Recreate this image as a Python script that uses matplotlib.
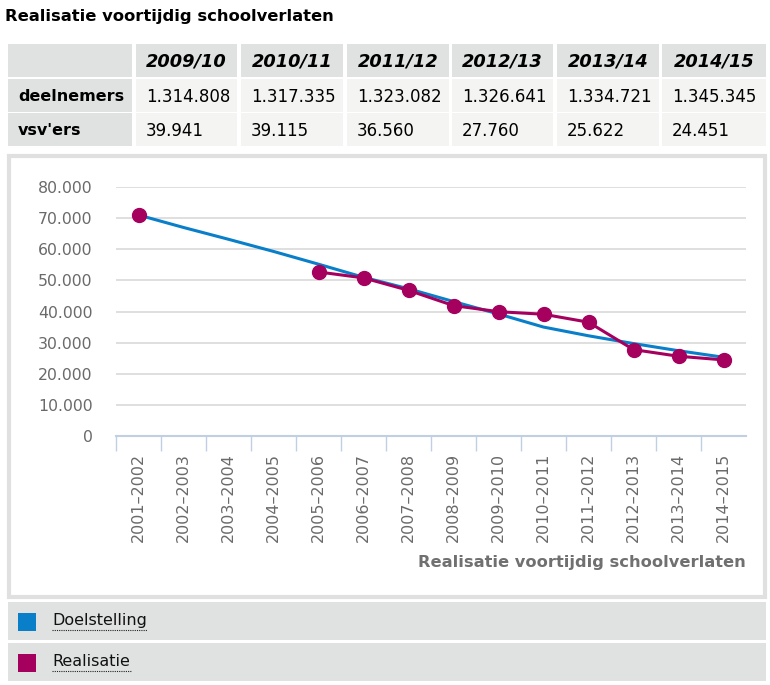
import numpy as np
import matplotlib
matplotlib.use("Agg")
import matplotlib.pyplot as plt
from matplotlib.patches import Rectangle

# data
years = ['2009/10', '2010/11', '2011/12', '2012/13', '2013/14', '2014/15']
deelnemers = ['1.314.808', '1.317.335', '1.323.082', '1.326.641', '1.334.721', '1.345.345']
vsvers = ['39.941', '39.115', '36.560', '27.760', '25.622', '24.451']

categories = ['2001–2002', '2002–2003', '2003–2004', '2004–2005', '2005–2006',
              '2006–2007', '2007–2008', '2008–2009', '2009–2010', '2010–2011',
              '2011–2012', '2012–2013', '2013–2014', '2014–2015']
doelstelling = [71000, 67000, 63200, 59300, 55200, 51000, 47300, 43200, 39200,
                35000, 32200, 29700, 27400, 25300]
realisatie = [71000, np.nan, np.nan, np.nan, 52700, 50800, 46800, 41900, 39941,
              39115, 36560, 27760, 25622, 24451]

BLUE = '#0a7fc9'
MAG = '#a6005f'
GRAY = '#e0e1e1'
LIGHT = '#f4f4f3'

W, H = 770, 685
fig = plt.figure(figsize=(W / 100, H / 100), dpi=100)
plt.rcParams['font.family'] = ['DejaVu Sans']

# overlay in pixel coords
bg = fig.add_axes([0, 0, 1, 1])
bg.set_xlim(0, W)
bg.set_ylim(H, 0)
bg.axis('off')

bg.text(5, 16, 'Realisatie voortijdig schoolverlaten', fontsize=11.8,
        fontweight='bold', va='center', ha='left')

# table
col_x = [8, 136, 241, 347, 452, 557, 662]
col_w = [124, 101, 102, 102, 101, 102, 104]
row_y = [44, 79, 113]
row_h = 33
for r in range(3):
    for c in range(7):
        fc = GRAY if (r == 0 or c == 0) else LIGHT
        bg.add_patch(Rectangle((col_x[c], row_y[r]), col_w[c], row_h, fc=fc, ec='none'))
for i, y in enumerate(years):
    bg.text(col_x[i + 1] + col_w[i + 1] / 2, row_y[0] + row_h / 2 + 1, y,
            fontsize=12.8, fontweight='bold', fontstyle='italic', ha='center', va='center')
for r, (lab, vals) in enumerate([('deelnemers', deelnemers), ("vsv'ers", vsvers)]):
    yy = row_y[r + 1] + row_h / 2 + 1
    bg.text(18, yy, lab, fontsize=11.5, fontweight='bold', ha='left', va='center')
    for i, v in enumerate(vals):
        bg.text(col_x[i + 1] + 10, yy, v, fontsize=12, ha='left', va='center')

# chart frame
bg.add_patch(Rectangle((9, 156), 756, 441, fc='white', ec='#e0e0e0', lw=3))

# legend rows
for k, (lab, col) in enumerate([('Doelstelling', BLUE), ('Realisatie', MAG)]):
    y0 = 602 + k * 41
    bg.add_patch(Rectangle((8, y0), 758, 38, fc=GRAY, ec='none'))
    bg.add_patch(Rectangle((18, y0 + 11), 18, 18, fc=col, ec='none'))
    bg.text(52, y0 + 19, lab, fontsize=11.5, ha='left', va='center', color='#111111')
    bg.plot([52, 52 + len(lab) * 7.9], [y0 + 27.5, y0 + 27.5], ls=(0, (1, 1)), lw=0.8, color='#222222')

# chart
ax = fig.add_axes([116 / W, (H - 436) / H, (746 - 116) / W, 249 / H])
x = np.arange(len(categories))
ax.plot(x, doelstelling, color=BLUE, lw=2.2, zorder=2)
ax.plot(x, realisatie, color=MAG, lw=2.2, marker='o', ms=10, zorder=3)
ax.set_xlim(-0.5, len(categories) - 0.5)
ax.set_ylim(0, 80000)
ax.set_yticks(np.arange(0, 80001, 10000))
ax.set_yticklabels(['0'] + ['%d.000' % (v // 1000) for v in range(10000, 80001, 10000)])
ax.yaxis.grid(True, color='#d9d9d9', lw=1.2)
ax.set_axisbelow(True)
for s in ['top', 'right', 'left']:
    ax.spines[s].set_visible(False)
ax.spines['bottom'].set_color('#c0d0e2')
ax.spines['bottom'].set_linewidth(1.5)
ax.tick_params(axis='y', length=0, pad=17, labelsize=11.3, labelcolor='#6a6a6a')
ax.set_xticks(np.arange(-0.5, len(categories) - 1, 1))
ax.tick_params(axis='x', which='major', length=11, color='#c0d0e2', width=1, labelbottom=False)
ax.set_xticks(x, minor=True)
ax.set_xticklabels(categories, minor=True, rotation=90, fontsize=11.5, color='#6a6a6a')
ax.tick_params(axis='x', which='minor', length=0, pad=12)
ax.set_xlabel('Realisatie voortijdig schoolverlaten', fontsize=11.7, fontweight='bold',
              color='#707070', loc='right', labelpad=9)

fig.savefig('out.png', dpi=100)
